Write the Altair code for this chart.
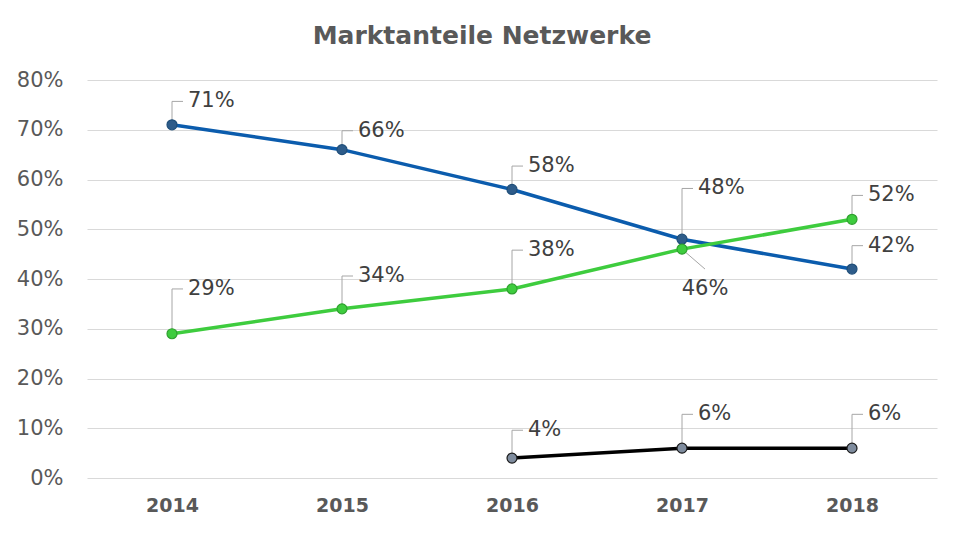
import altair as alt
import pandas as pd

years = ["2014", "2015", "2016", "2017", "2018"]
series_names = ["Blau", "Grün", "Schwarz"]
blue_values = [71, 66, 58, 48, 42]
green_values = [29, 34, 38, 46, 52]
black_values = [None, None, 4, 6, 6]

rows = []
for name, vals in zip(series_names, [blue_values, green_values, black_values]):
    for y, v in zip(years, vals):
        rows.append({"year": y, "series": name, "value": v})
df = pd.DataFrame(rows)

line_colors = ["#0B5CAD", "#3ECC3E", "#000000"]
marker_fills = ["#2E5C8A", "#3ECC3E", "#7F8C9E"]
marker_strokes = ["#1F4E79", "#2FA02F", "#1A1A1A"]
FONT = "DejaVu Sans"
LEADER = "#A6A6A6"

x_enc = alt.X("year:O", scale=alt.Scale(type="point", padding=0.5, domain=years),
              axis=alt.Axis(title=None, labelAngle=0, domain=False, ticks=False,
                            labelFontWeight="bold", labelFontSize=19, labelColor="#595959",
                            labelPadding=18, labelFont=FONT, grid=False))
y_scale = alt.Scale(domain=[0, 80], nice=False)
y_enc = alt.Y("value:Q", scale=y_scale,
              axis=alt.Axis(title=None, values=list(range(0, 81, 10)), labelExpr="datum.value + '%'",
                            domain=False, ticks=False, labelFontSize=21, labelColor="#595959",
                            labelPadding=24, labelFont=FONT, grid=True, gridColor="#D9D9D9",
                            gridWidth=1))

base = alt.Chart(df).transform_filter("isValid(datum.value)").transform_calculate(
    label="datum.value + '%'",
    below="datum.series == 'Grün' && datum.year == '2017'",
    lift=("datum.series == 'Blau' ? (datum.year == '2017' ? 10.2 : (datum.year == '2015' ? 3.8 : 4.7)) : "
          "datum.series == 'Grün' ? (datum.year == '2018' ? 4.8 : (datum.year == '2014' ? 9 : (datum.year == '2015' ? 6.6 : 7.8))) : "
          "(datum.year == '2016' ? 5.6 : 6.8)"),
).transform_calculate(
    label_y="datum.value + datum.lift",
    below_y="datum.value - 4",
    below_text_y="datum.value - 8",
)

above = base.transform_filter("!datum.below")
below = base.transform_filter("datum.below")

leader_v = above.mark_rule(color=LEADER, strokeWidth=1).encode(
    x=x_enc, y=y_enc, y2="label_y:Q")
leader_h = above.mark_rule(color=LEADER, strokeWidth=1, x2Offset=11).encode(
    x=x_enc, x2="year:O", y=alt.Y("label_y:Q", scale=y_scale))
leader_d = below.mark_rule(color=LEADER, strokeWidth=1, x2Offset=23).encode(
    x=x_enc, x2="year:O", y=y_enc, y2="below_y:Q")

lines = base.mark_line(strokeWidth=3.5).encode(
    x=x_enc, y=y_enc,
    color=alt.Color("series:N", scale=alt.Scale(domain=series_names, range=line_colors), legend=None))

points = base.mark_point(filled=True, size=100, strokeWidth=1.2, opacity=1).encode(
    x=x_enc, y=y_enc,
    fill=alt.Fill("series:N", scale=alt.Scale(domain=series_names, range=marker_fills), legend=None),
    stroke=alt.Stroke("series:N", scale=alt.Scale(domain=series_names, range=marker_strokes), legend=None))

text_above = above.mark_text(align="left", baseline="middle", dx=16, fontSize=21,
                             font=FONT, color="#404040").encode(
    x=x_enc, y=alt.Y("label_y:Q", scale=y_scale), text="label:N")
text_below = below.mark_text(align="center", baseline="middle", dx=23, fontSize=21,
                             font=FONT, color="#404040").encode(
    x=x_enc, y=alt.Y("below_text_y:Q", scale=y_scale), text="label:N")

chart = alt.layer(leader_v, leader_h, leader_d, lines, points, text_above, text_below).properties(
    width=850, height=398,
    background="white",
    title=alt.TitleParams("Marktanteile Netzwerke", font=FONT, fontSize=25, fontWeight="bold",
                          color="#595959", anchor="middle", dx=-30, offset=20),
    autosize=alt.AutoSizeParams(type="none"),
    padding={"left": 87, "top": 80, "right": 23, "bottom": 62},
).configure_view(strokeWidth=0, stroke=None)

chart.save("out.html", embed_options={"renderer": "svg", "actions": False})
